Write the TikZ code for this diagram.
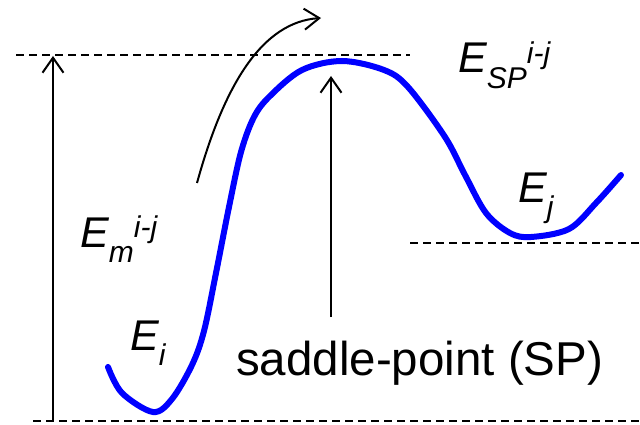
\documentclass[tikz,border=0pt]{standalone}
\usepackage{fontspec}
\setmainfont{Liberation Sans}
\usepackage{tikz}
\usetikzlibrary{arrows.meta,calc,positioning}
\definecolor{curveblue}{rgb}{0,0,1}
\newcommand{\subfont}{\fontsize{30}{32}\selectfont}
\newcommand{\Elab}[2]{\textit{E\raisebox{-0.36em}{\subfont #1}\raisebox{0.22em}{\subfont #2}}}

\begin{document}
\begin{tikzpicture}[x=1pt,y=-1pt,
    guide/.style={dashed,line width=1.4pt,dash pattern=on 8pt off 5pt},
    barb/.style={line width=2pt,-{Straight Barb[length=15pt,width=21pt]}},
    elabel/.style={anchor=base west,inner sep=0pt,font=\fontsize{43}{50}\selectfont},
    txt/.style={anchor=base west,inner sep=0pt,font=\fontsize{47.5}{54}\selectfont}]
                \useasboundingbox (0,0) rectangle (640,425);
                \coordinate (top1) at (16,55);
                \coordinate (top2) at (410,55);
                \coordinate (bot1) at (33,421);
                \coordinate (bot2) at (640,421);
                \coordinate (rj1) at (410,243);
                \coordinate (rj2) at (640,243);
                \coordinate (emtop) at (53,56);
                \coordinate (embot) at (53,421);
                \coordinate (sptail) at (331,317);
                \coordinate (sphead) at (331,76);
                \coordinate (pathtail) at (197,183);
                \coordinate (pathhead) at (321,18);
                %Levels
                \draw[guide] (top1) -- (top2);
                \draw[guide] (bot1) -- (bot2);
                \draw[guide] (rj1) -- (rj2);
                %Energy curve
                \draw[curveblue,line width=6pt,line cap=round] plot[smooth,tension=0.55] coordinates {
                    (108,367) (122,393) (153,412) (172,399) (192,365) (204,331)
                    (216,273) (229,207) (241,152) (254,117) (270,96) (302,70)
                    (342,61) (384,70) (408,87) (445,137) (465,175) (486,213)
                    (510,233) (531,237) (569,229) (596,203) (621,175)};
                %Arrows
                \draw[barb,{Straight Barb[length=15pt,width=21pt]}-] (emtop) -- (embot);
                \draw[barb] (sptail) -- (sphead);
                \draw[barb] (pathtail) .. controls (224,85) and (262,22) .. (pathhead);
                %Labels
                \node[elabel] (esp) at (458,73) {\Elab{SP}{i-j}};
                \node[elabel] (em) at (80,247) {\Elab{m}{i-j}};
                \node[elabel] (ei) at (130,350) {\Elab{i}{}};
                \node[elabel] (ej) at (518,202) {\Elab{j}{}};
                \node[txt] (sp) at (236,375) {saddle-point (SP)};
            \end{tikzpicture}
\end{document}
